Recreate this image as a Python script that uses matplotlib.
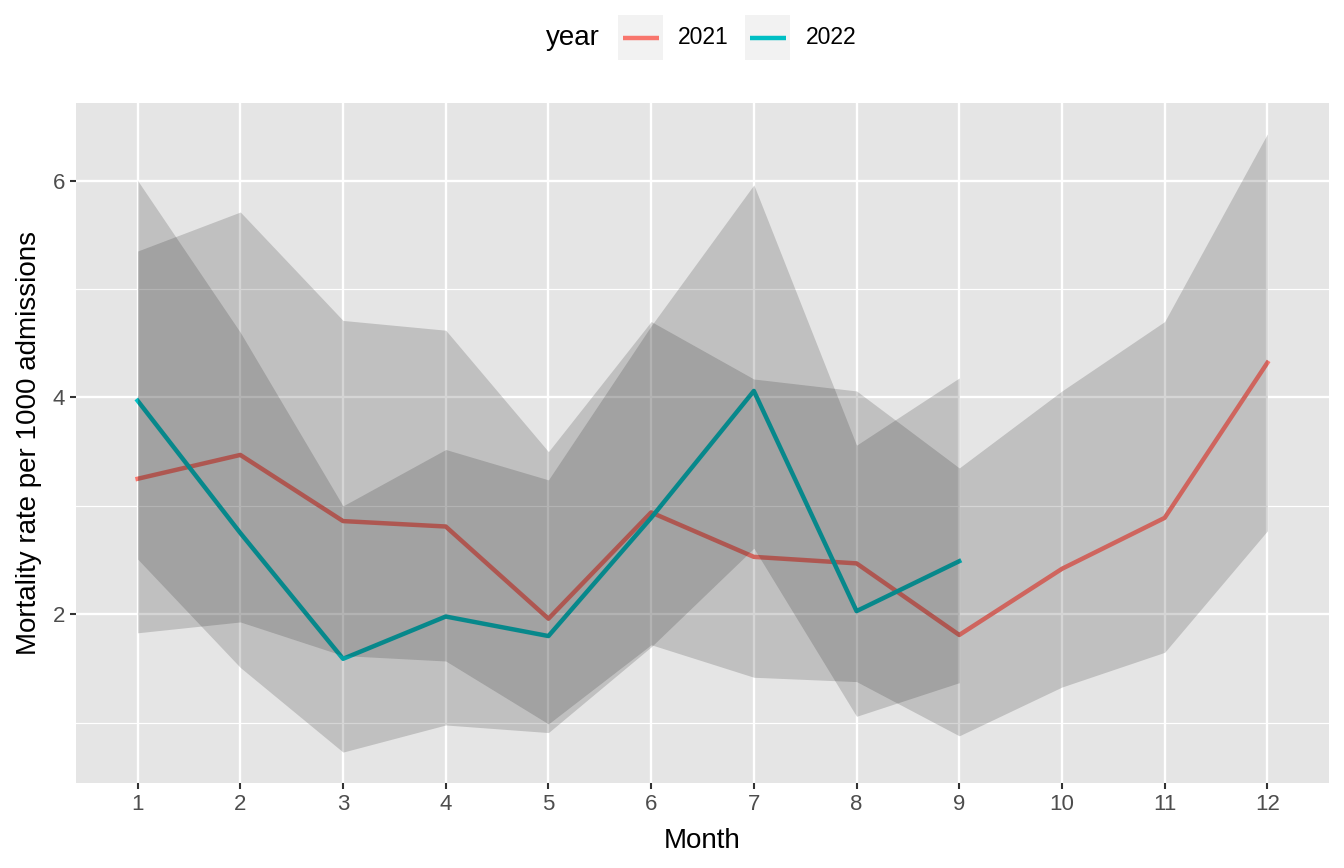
import matplotlib
matplotlib.use("Agg")
import matplotlib.pyplot as plt
from matplotlib.patches import Rectangle
from matplotlib.lines import Line2D
from matplotlib.ticker import MultipleLocator

plt.rcParams['font.family'] = ['Liberation Sans', 'DejaVu Sans']

# monthly mortality rate per 1000 admissions, with confidence band
months_2021 = list(range(1, 13))
rate_2021 = [3.25, 3.47, 2.86, 2.81, 1.96, 2.94, 2.53, 2.47, 1.81, 2.42, 2.89, 4.32]
lo_2021 = [1.83, 1.93, 1.62, 1.57, 0.99, 1.72, 1.42, 1.38, 0.88, 1.33, 1.65, 2.77]
hi_2021 = [5.35, 5.71, 4.71, 4.62, 3.50, 4.70, 4.17, 4.06, 3.35, 4.06, 4.70, 6.43]

months_2022 = list(range(1, 10))
rate_2022 = [3.97, 2.75, 1.59, 1.98, 1.80, 2.89, 4.06, 2.03, 2.49]
lo_2022 = [2.51, 1.51, 0.73, 0.98, 0.91, 1.70, 2.61, 1.06, 1.37]
hi_2022 = [6.00, 4.60, 3.00, 3.52, 3.24, 4.66, 5.96, 3.56, 4.18]

years = ['2021', '2022']
colors = ['#F8766D', '#00BFC4']
month_ticks = list(range(1, 13))

W, H = 1344, 868
fig = plt.figure(figsize=(W / 100, H / 100), dpi=100)
# panel placement in pixels: left 76, right 1329, top 103, bottom 783
ax = fig.add_axes([76 / W, (H - 783) / H, (1329 - 76) / W, (783 - 103) / H])
ax.set_facecolor('#E5E5E5')
for s in ax.spines.values():
    s.set_visible(False)

# lines first, ribbons on top (as ggplot drew them)
ax.plot(months_2021, rate_2021, color=colors[0], lw=3.2, zorder=3)
ax.plot(months_2022, rate_2022, color=colors[1], lw=3.2, zorder=3)
ax.fill_between(months_2021, lo_2021, hi_2021, color='#1a1a1a', alpha=0.18, lw=0, zorder=4)
ax.fill_between(months_2022, lo_2022, hi_2022, color='#1a1a1a', alpha=0.18, lw=0, zorder=4)

# discrete-style x range, 5% expansion on y
ax.set_xlim(0.4, 12.6)
all_vals = lo_2021 + hi_2021 + lo_2022 + hi_2022
ymin, ymax = min(all_vals), max(all_vals)
pad = 0.05 * (ymax - ymin)
ax.set_ylim(ymin - pad, ymax + pad)

ax.set_xticks(month_ticks)
ax.set_xticklabels([str(m) for m in month_ticks])
ax.yaxis.set_major_locator(MultipleLocator(2))
ax.yaxis.set_minor_locator(MultipleLocator(1))

ax.grid(which='major', color='white', lw=1.7, zorder=0)
ax.grid(which='minor', axis='y', color='white', lw=0.85, zorder=0)
ax.set_axisbelow(True)
ax.tick_params(which='major', length=4.3, width=1.5, color='#333333',
               labelsize=16, labelcolor='#4D4D4D', pad=3.5)
ax.tick_params(which='minor', length=0)

ax.set_xlabel('Month', fontsize=20)
ax.set_ylabel('Mortality rate per 1000 admissions', fontsize=20)
ax.xaxis.set_label_coords(0.5, -0.066)
ax.yaxis.set_label_coords(-0.027, 0.5)

# legend on top, drawn in figure pixels
def fx(px):
    return px / W

def fy(py):
    return (H - py) / H

fig.text(fx(546), fy(38), 'year', fontsize=20, va='center', ha='left')
key_x = [618, 745]
lab_x = [678, 806]
for kx, lx, col, yr in zip(key_x, lab_x, colors, years):
    fig.patches.append(Rectangle((fx(kx), fy(60)), 45 / W, 45 / H,
                                 transform=fig.transFigure, facecolor='#F2F2F2',
                                 edgecolor='none'))
    fig.lines.append(Line2D([fx(kx + 5), fx(kx + 41)], [fy(37.5), fy(37.5)],
                            transform=fig.transFigure, color=col, lw=3.2,
                            solid_capstyle='butt'))
    fig.text(fx(lx), fy(38), yr, fontsize=16.5, va='center', ha='left')

fig.savefig('out.png', dpi=100, facecolor='white')
